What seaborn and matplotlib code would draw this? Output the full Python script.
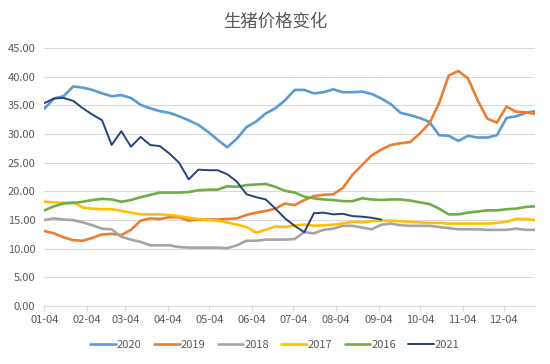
import pandas as pd
import matplotlib
matplotlib.use("Agg")
import matplotlib.pyplot as plt
import matplotlib.dates as mdates
import seaborn as sns

# weekly prices, first point 01-04
weeks = pd.date_range("2021-01-04", periods=52, freq="7D")
month_ticks = pd.date_range("2021-01-04", periods=12, freq=pd.DateOffset(months=1))

years = ["2020", "2019", "2018", "2017", "2016", "2021"]
colors = ["#5B9BD5", "#ED7D31", "#A5A5A5", "#FFC000", "#70AD47", "#264478"]

p2020 = [34.4, 36.2, 36.6, 38.3, 38.1, 37.7, 37.1, 36.6, 36.8, 36.3, 35.1, 34.5, 34.0,
         33.7, 33.1, 32.4, 31.6, 30.4, 29.0, 27.7, 29.2, 31.2, 32.2, 33.6, 34.5, 35.9,
         37.7, 37.7, 37.1, 37.3, 37.8, 37.3, 37.3, 37.4, 37.0, 36.2, 35.2, 33.7, 33.3,
         32.8, 32.1, 29.8, 29.7, 28.8, 29.7, 29.4, 29.4, 29.8, 32.8, 33.1, 33.7, 34.0]
p2019 = [13.1, 12.7, 12.0, 11.5, 11.4, 11.9, 12.5, 12.6, 12.4, 13.3, 14.9, 15.3, 15.2,
         15.5, 15.5, 14.9, 15.1, 15.1, 15.1, 15.2, 15.3, 15.9, 16.3, 16.6, 17.0, 17.9,
         17.6, 18.5, 19.2, 19.4, 19.5, 20.6, 22.9, 24.6, 26.3, 27.3, 28.1, 28.4, 28.6,
         30.1, 31.9, 35.4, 40.2, 41.0, 39.7, 35.9, 32.7, 32.0, 34.8, 33.9, 33.8, 33.5]
p2018 = [15.0, 15.3, 15.1, 15.0, 14.6, 14.1, 13.5, 13.4, 12.1, 11.6, 11.2, 10.6, 10.6,
         10.6, 10.3, 10.2, 10.2, 10.2, 10.2, 10.1, 10.6, 11.4, 11.4, 11.6, 11.6, 11.6,
         11.7, 12.9, 12.7, 13.3, 13.5, 14.0, 14.0, 13.7, 13.4, 14.2, 14.4, 14.1, 14.0,
         14.0, 14.0, 13.8, 13.6, 13.4, 13.4, 13.4, 13.3, 13.3, 13.3, 13.5, 13.3, 13.3]
p2017 = [18.2, 18.1, 18.0, 18.1, 17.2, 17.0, 16.9, 16.9, 16.6, 16.3, 16.0, 16.0, 16.0,
         15.9, 15.7, 15.4, 15.2, 15.0, 14.9, 14.6, 14.2, 13.8, 12.8, 13.3, 13.9, 13.8,
         14.1, 14.2, 14.0, 14.1, 14.2, 14.4, 14.7, 14.6, 14.8, 14.9, 14.9, 14.8, 14.7,
         14.6, 14.5, 14.5, 14.4, 14.4, 14.4, 14.4, 14.4, 14.5, 14.7, 15.2, 15.2, 15.0]
p2016 = [16.7, 17.4, 17.9, 18.0, 18.2, 18.5, 18.7, 18.6, 18.2, 18.5, 19.0, 19.4, 19.8,
         19.8, 19.8, 19.9, 20.2, 20.3, 20.3, 20.9, 20.8, 21.1, 21.2, 21.3, 20.8, 20.1,
         19.8, 19.1, 18.8, 18.6, 18.5, 18.3, 18.3, 18.8, 18.6, 18.5, 18.6, 18.6, 18.4,
         18.1, 17.8, 17.0, 16.0, 16.0, 16.3, 16.5, 16.7, 16.7, 16.9, 17.0, 17.3, 17.4]
p2021 = [35.4, 36.2, 36.3, 35.8, 34.5, 33.4, 32.4, 28.1, 30.5, 27.8, 29.5, 28.1, 27.9,
         26.6, 25.0, 22.1, 23.8, 23.7, 23.7, 23.0, 21.7, 19.5, 19.0, 18.6, 17.0, 15.3,
         14.0, 12.9, 16.2, 16.3, 16.0, 16.1, 15.7, 15.6, 15.4, 15.1]

series = [p2020, p2019, p2018, p2017, p2016, p2021]
frames = []
for yr, vals in zip(years, series):
    frames.append(pd.DataFrame({"date": weeks[:len(vals)], "price": vals, "year": yr}))
df = pd.concat(frames, ignore_index=True)

sns.set_theme(style="white")
plt.rcParams["font.family"] = ["Noto Sans CJK SC", "DejaVu Sans"]

fig = plt.figure(figsize=(5.5, 3.64), dpi=100)
ax = fig.add_axes([0.0805, 0.159, 0.893, 0.709])

sns.lineplot(data=df, x="date", y="price", hue="year", hue_order=years,
             palette=dict(zip(years, colors)), linewidth=1.9, ax=ax, legend=True)
# the 2021 line is drawn a bit thinner
ax.lines[5].set_linewidth(1.4)

ax.set_xlim(weeks[0], weeks[-1])
ax.set_ylim(0, 45)
ax.set_yticks(range(0, 46, 5))
ax.yaxis.set_major_formatter(matplotlib.ticker.FormatStrFormatter("%.2f"))
ax.set_xticks(month_ticks)
ax.xaxis.set_major_formatter(mdates.DateFormatter("%m-%d"))
ax.set_xlabel("")
ax.set_ylabel("")

ax.grid(axis="y", color="#D9D9D9", linewidth=0.8)
ax.set_axisbelow(True)
for s in ["top", "right", "left"]:
    ax.spines[s].set_visible(False)
ax.spines["bottom"].set_color("#D9D9D9")
ax.spines["bottom"].set_linewidth(0.8)
ax.tick_params(axis="y", length=0, pad=6.5, labelsize=8, labelcolor="#595959")
ax.tick_params(axis="x", bottom=True, length=3.5, width=0.8, color="#D9D9D9",
               pad=3, labelsize=8, labelcolor="#595959")

handles, labels = ax.get_legend_handles_labels()
ax.get_legend().remove()
leg = fig.legend(handles, labels, loc="center", bbox_to_anchor=(0.5, 0.052), ncol=6,
                 frameon=False, fontsize=8, handlelength=2.3, handletextpad=0.1,
                 columnspacing=1.1)
for t in leg.get_texts():
    t.set_color("#595959")
leg.get_lines()[5].set_linewidth(1.4)

fig.text(0.5, 1 - 21.5 / 364, "生猪价格变化", ha="center", va="center",
         fontsize=12.5, color="#595959")

fig.savefig("out.png", dpi=100)
